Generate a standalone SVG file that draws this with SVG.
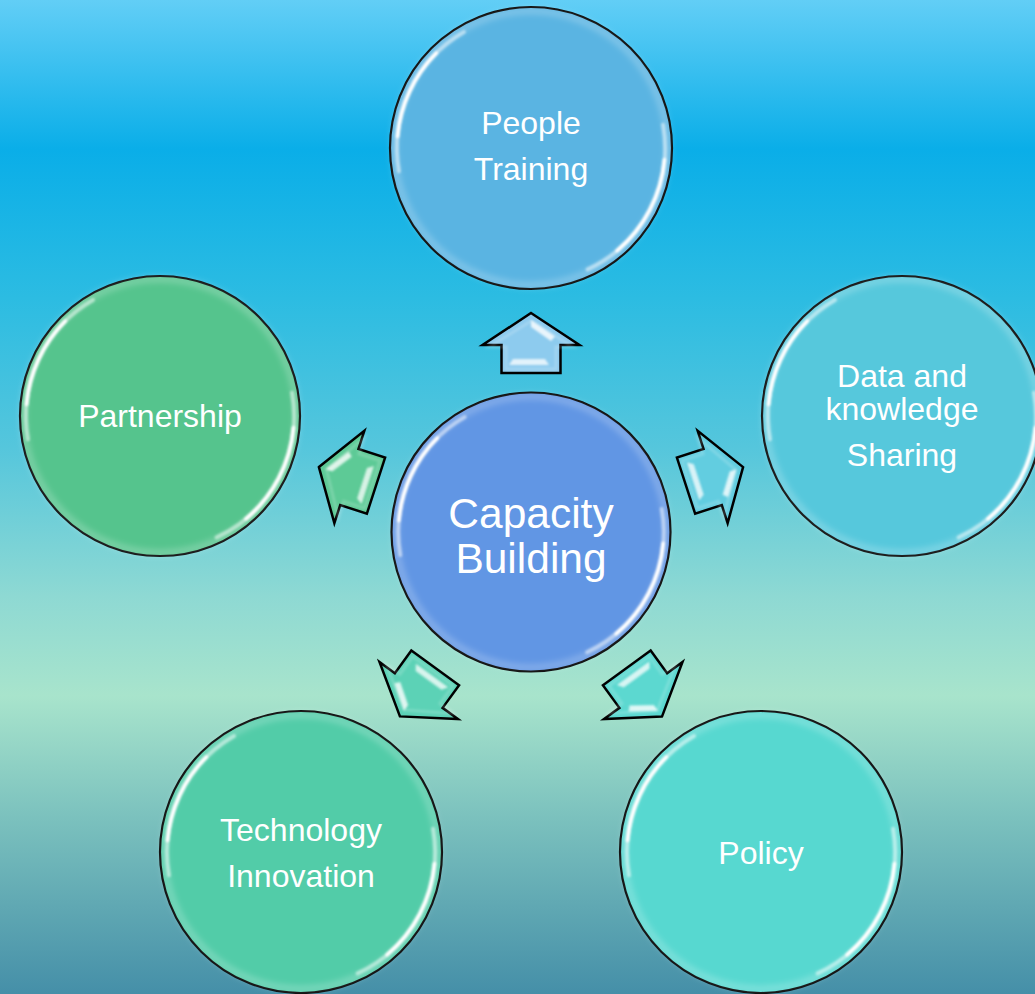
<svg xmlns="http://www.w3.org/2000/svg" width="1035" height="994" viewBox="0 0 1035 994">
<defs>
<linearGradient id="bg" x1="0" y1="0" x2="0" y2="1">
<stop offset="0" stop-color="#62CEF6"/>
<stop offset="0.15" stop-color="#0AAEE8"/>
<stop offset="0.30" stop-color="#2CBCE2"/>
<stop offset="0.45" stop-color="#55C6DC"/>
<stop offset="0.60" stop-color="#8ED9D3"/>
<stop offset="0.70" stop-color="#A8E4CC"/>
<stop offset="0.82" stop-color="#7CC2BE"/>
<stop offset="1" stop-color="#458FA8"/>
</linearGradient>
<filter id="blur" x="-20%" y="-20%" width="140%" height="140%">
<feGaussianBlur stdDeviation="1.2"/>
</filter>
<filter id="blur2" x="-20%" y="-20%" width="140%" height="140%">
<feGaussianBlur stdDeviation="3"/>
</filter>
<g id="gloss">
<circle r="137" fill="none" stroke="#fff" stroke-opacity="0.25" stroke-width="6" filter="url(#blur2)"/>
<g fill="none" stroke="#fff" stroke-linecap="round" filter="url(#blur)">
<path d="M -132 23.3 A 134 134 0 0 1 -67 -116" stroke-width="4" stroke-opacity="0.5"/>
<path d="M -133.5 -11.7 A 134 134 0 0 1 -94.8 -94.8" stroke-width="4" stroke-opacity="1"/>
<path d="M 132 -23.3 A 134 134 0 0 1 56.6 121.4" stroke-width="4" stroke-opacity="0.5"/>
<path d="M 133.5 11.7 A 134 134 0 0 1 86.1 102.7" stroke-width="4" stroke-opacity="1"/>
</g>
</g>
<path id="arrowShape" d="M 0 -223 L 48.5 -191 L 29.5 -191 L 29.5 -163 L -29.5 -163 L -29.5 -191 L -48.5 -191 Z"/>
<g id="arrowHi">
<path d="M 0 -216 L 24 -199.5 L 20 -195 L 0 -209 Z" fill="#fff" fill-opacity="0.8" filter="url(#blur)"/>
<path d="M -18 -177 L 14 -177 L 18 -171 L -22 -171 Z" fill="#fff" fill-opacity="0.75" filter="url(#blur)"/>
<path d="M 0 -215 L 42 -189 L 25 -189 L 25 -167 L -25 -167 L -25 -189 L -42 -189 Z" fill="none" stroke="#fff" stroke-opacity="0.18" stroke-width="3" filter="url(#blur)"/>
</g>
</defs>
<style>
.node circle.body { stroke: #000; stroke-width: 2.2; }
.lbl { font-family: "Liberation Sans", Arial, sans-serif; font-size: 32px; fill: #fff; text-anchor: middle; }
.big { font-size: 42.5px; }
.arrow use.shape { stroke: #000; stroke-width: 2.5; stroke-linejoin: miter; }
</style>
<rect x="0" y="0" width="1035" height="994" fill="url(#bg)"/>

<g id="connectors">
<g class="arrow" id="arrow-top" transform="translate(531,536)">
<use class="shape" href="#arrowShape" fill="#8DCBEE"/>
<use href="#arrowHi"/>
</g>
<g class="arrow" id="arrow-right" transform="translate(531,536) rotate(72)">
<use class="shape" href="#arrowShape" fill="#62CDE0"/>
<use href="#arrowHi"/>
</g>
<g class="arrow" id="arrow-bottom-right" transform="translate(531,536) rotate(144)">
<use class="shape" href="#arrowShape" fill="#5CD8D0"/>
<use href="#arrowHi"/>
</g>
<g class="arrow" id="arrow-bottom-left" transform="translate(531,536) rotate(216)">
<use class="shape" href="#arrowShape" fill="#5CD2B6"/>
<use href="#arrowHi"/>
</g>
<g class="arrow" id="arrow-left" transform="translate(531,536) rotate(288)">
<use class="shape" href="#arrowShape" fill="#5DCA96"/>
<use href="#arrowHi"/>
</g>
</g>

<g class="node" id="node-center">
<circle class="body" cx="531" cy="532" r="139.5" fill="#6196E4"/>
<use href="#gloss" transform="translate(531,532) scale(0.99)"/>
<text class="lbl big" x="531" y="528">Capacity</text>
<text class="lbl big" x="531" y="573">Building</text>
</g>

<g class="node" id="node-people">
<circle class="body" cx="531" cy="148" r="141" fill="#5AB4E2"/>
<use href="#gloss" transform="translate(531,148)"/>
<text class="lbl" x="531" y="134">People</text>
<text class="lbl" x="531" y="180">Training</text>
</g>

<g class="node" id="node-data">
<circle class="body" cx="902" cy="416" r="140" fill="#56C8DC"/>
<use href="#gloss" transform="translate(902,416)"/>
<text class="lbl" x="902" y="387">Data and</text>
<text class="lbl" x="902" y="420">knowledge</text>
<text class="lbl" x="902" y="466">Sharing</text>
</g>

<g class="node" id="node-partnership">
<circle class="body" cx="160" cy="416" r="140" fill="#55C48D"/>
<use href="#gloss" transform="translate(160,416)"/>
<text class="lbl" x="160" y="427">Partnership</text>
</g>

<g class="node" id="node-technology">
<circle class="body" cx="301" cy="852" r="141" fill="#52CCA8"/>
<use href="#gloss" transform="translate(301,852)"/>
<text class="lbl" x="301" y="841">Technology</text>
<text class="lbl" x="301" y="887">Innovation</text>
</g>

<g class="node" id="node-policy">
<circle class="body" cx="761" cy="852" r="141" fill="#57D8D0"/>
<use href="#gloss" transform="translate(761,852)"/>
<text class="lbl" x="761" y="864">Policy</text>
</g>
</svg>
